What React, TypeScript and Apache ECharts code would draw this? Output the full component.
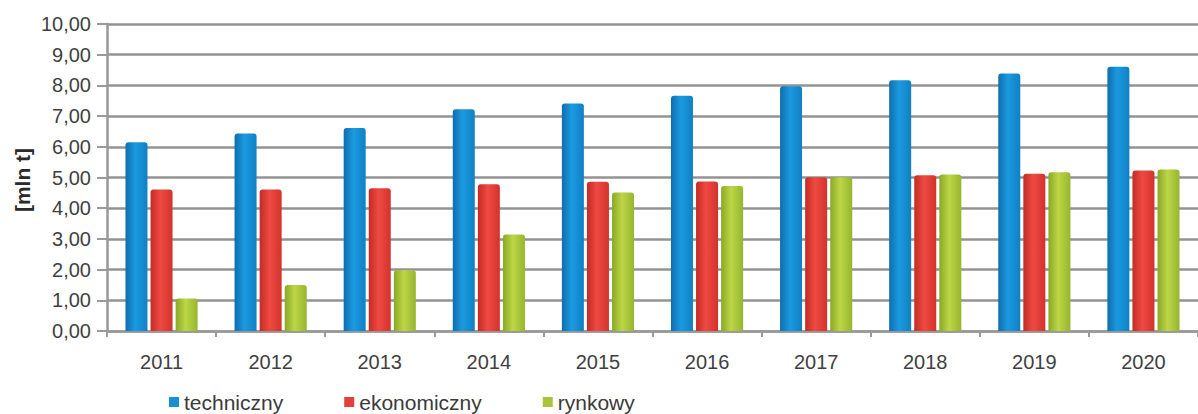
import React, { useEffect, useRef } from "react";
import * as echarts from "echarts";

const categories = ["2011", "2012", "2013", "2014", "2015", "2016", "2017", "2018", "2019", "2020"];
const techniczny = [6.15, 6.43, 6.61, 7.22, 7.41, 7.66, 7.97, 8.17, 8.39, 8.61];
const ekonomiczny = [4.61, 4.61, 4.65, 4.78, 4.86, 4.87, 5.01, 5.07, 5.12, 5.23];
const rynkowy = [1.06, 1.5, 1.98, 3.14, 4.51, 4.72, 5.01, 5.1, 5.17, 5.26];
const seriesNames = ["techniczny", "ekonomiczny", "rynkowy"];
const yAxisName = "[mln t]";

const grad = (a: string, b: string, c: string) =>
  new echarts.graphic.LinearGradient(0, 0, 1, 0, [
    { offset: 0, color: a },
    { offset: 0.45, color: b },
    { offset: 1, color: c },
  ]);

export default function App() {
  const ref = useRef<HTMLDivElement>(null);
  useEffect(() => {
    if (!ref.current) return;
    const chart = echarts.init(ref.current, undefined, { renderer: "svg" });
    const font = "Liberation Sans, Arial, sans-serif";
    const colors = [
      grad("#0e6eae", "#1b9ae0", "#1080c4"),
      grad("#c42b25", "#ee4a42", "#d2332c"),
      grad("#8aa826", "#bcd646", "#97b52e"),
    ];
    const solid = ["#1a8fd2", "#e2403a", "#a8c43a"];
    const data = [techniczny, ekonomiczny, rynkowy];
    chart.setOption({
      animation: false,
      textStyle: { fontFamily: font },
      grid: { left: 107, top: 24, width: 1100, height: 307 },
      legend: {
        left: 164,
        top: 386,
        padding: 5,
        itemWidth: 10,
        itemHeight: 10,
        itemGap: 61,
        icon: "rect",
        textStyle: { fontSize: 21, color: "#3a3a3a", fontFamily: font, lineHeight: 22 },
        data: seriesNames.map((n, i) => ({ name: n, itemStyle: { color: solid[i] } })),
      },
      xAxis: {
        type: "category",
        data: categories,
        axisLine: { lineStyle: { color: "#999999", width: 2.5 } },
        axisTick: { show: true, length: 6, lineStyle: { color: "#999999", width: 2 } },
        axisLabel: { fontSize: 20, color: "#3f3f3f", margin: 21, fontFamily: font },
      },
      yAxis: {
        type: "value",
        min: 0,
        max: 10,
        interval: 1,
        axisLine: { show: true, lineStyle: { color: "#999999", width: 2.5 } },
        axisTick: { show: true, length: 10, lineStyle: { color: "#999999", width: 2 } },
        axisLabel: {
          fontSize: 20,
          color: "#3f3f3f",
          margin: 16,
          fontFamily: font,
          formatter: (v: number) => v.toFixed(2).replace(".", ","),
        },
        splitLine: { show: true, lineStyle: { color: "#939393", width: 2.5 } },
      },
      graphic: [
        {
          type: "text",
          x: 22,
          y: 180,
          rotation: Math.PI / 2,
          style: {
            text: yAxisName,
            fontSize: 21,
            fontWeight: "bold",
            fill: "#2a2a2a",
            fontFamily: font,
            align: "center",
            verticalAlign: "middle",
          },
        },
      ],
      series: seriesNames.map((n, i) => ({
        name: n,
        type: "bar",
        data: data[i],
        barWidth: 22,
        barGap: "14%",
        itemStyle: { color: colors[i], borderRadius: [3, 3, 0, 0] },
      })),
    });
    return () => chart.dispose();
  }, []);
  return (
    <div
      ref={ref}
      style={{ position: "fixed", left: 0, top: 0, width: 1198, height: 414, background: "#fff" }}
    />
  );
}
